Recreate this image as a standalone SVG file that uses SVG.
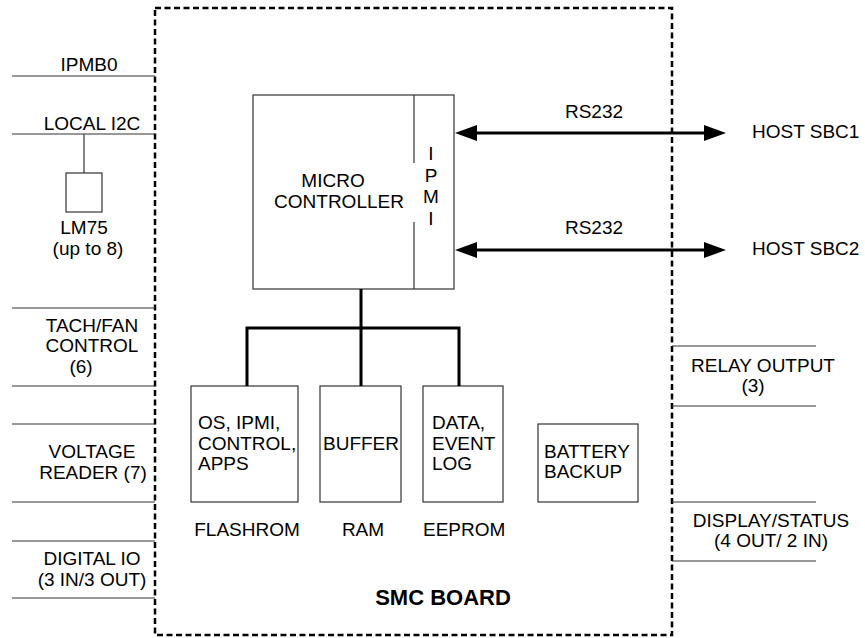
<svg xmlns="http://www.w3.org/2000/svg" width="865" height="638" viewBox="0 0 865 638">
<style>
text{font-family:"Liberation Sans",Arial,sans-serif;font-size:19px;fill:#000}
.c{text-anchor:middle}
.b{font-weight:bold;font-size:22px}
.thin{stroke:#333;stroke-width:1.2;fill:none}
.box{stroke:#333;stroke-width:1.2;fill:#fff}
.bus{stroke:#000;stroke-width:3;fill:none}
.arr{stroke:#000;stroke-width:3;fill:none;marker-start:url(#ah);marker-end:url(#ah)}
</style>
<defs>
<marker id="ah" markerUnits="userSpaceOnUse" viewBox="0 0 22 16" markerWidth="22" markerHeight="16" refX="15" refY="8" orient="auto-start-reverse">
<path d="M0,0 L22,8 L0,16 z" fill="#000"/>
</marker>
</defs>
<rect fill="#fff" width="865" height="638"/>

<g id="board">
<rect x="155" y="8" width="517" height="627" fill="none" stroke="#000" stroke-width="2.5" stroke-dasharray="6 3.5"/>
<text class="c b" x="443" y="605">SMC BOARD</text>
</g>

<g id="ipmb0">
<line class="thin" x1="12" y1="76" x2="155" y2="76"/>
<text class="c" x="89" y="71">IPMB0</text>
</g>
<g id="local-i2c">
<line class="thin" x1="12" y1="134" x2="155" y2="134"/>
<text class="c" x="92" y="130">LOCAL I2C</text>
</g>
<g id="lm75">
<rect class="box" x="66" y="173" width="36" height="39"/>
<text class="c" x="84" y="234">LM75</text>
<text class="c" x="88" y="255">(up to 8)</text>
</g>
<g id="tach-fan">
<line class="thin" x1="12" y1="308" x2="155" y2="308"/>
<line class="thin" x1="12" y1="386" x2="155" y2="386"/>
<text class="c" x="92" y="332">TACH/FAN</text>
<text class="c" x="92" y="352">CONTROL</text>
<text class="c" x="81" y="373">(6)</text>
</g>
<g id="voltage">
<line class="thin" x1="12" y1="424" x2="155" y2="424"/>
<line class="thin" x1="12" y1="502" x2="155" y2="502"/>
<text class="c" x="92" y="458">VOLTAGE</text>
<text class="c" x="93" y="479">READER (7)</text>
</g>
<g id="digital-io">
<line class="thin" x1="12" y1="541" x2="155" y2="541"/>
<line class="thin" x1="12" y1="598" x2="155" y2="598"/>
<text class="c" x="92" y="565">DIGITAL IO</text>
<text class="c" x="92" y="586">(3 IN/3 OUT)</text>
</g>

<g id="micro">
<rect class="box" x="253" y="95" width="201" height="194"/>
<line class="thin" x1="414" y1="95" x2="414" y2="163"/>
<line class="thin" x1="414" y1="222" x2="414" y2="289"/>
<text class="c" x="333" y="187">MICRO</text>
<text class="c" x="339" y="208">CONTROLLER</text>
<text class="c" x="431" y="160">I</text>
<text class="c" x="431" y="182">P</text>
<text class="c" x="431" y="203">M</text>
<text class="c" x="431" y="225">I</text>
</g>

<g id="host-sbc1">
<text x="752" y="138">HOST SBC1</text>
</g>
<g id="host-sbc2">
<text x="752" y="255">HOST SBC2</text>
</g>

<g id="flashrom">
<rect class="box" x="191" y="386" width="107" height="116"/>
<text x="198" y="429">OS, IPMI,</text>
<text x="198" y="450">CONTROL,</text>
<text x="198" y="470">APPS</text>
<text class="c" x="247" y="536">FLASHROM</text>
</g>
<g id="ram">
<rect class="box" x="320" y="386" width="81" height="116"/>
<text x="323" y="450">BUFFER</text>
<text class="c" x="363" y="536">RAM</text>
</g>
<g id="eeprom">
<rect class="box" x="423" y="386" width="80" height="116"/>
<text x="432" y="429">DATA,</text>
<text x="432" y="450">EVENT</text>
<text x="432" y="470">LOG</text>
<text x="423" y="536">EEPROM</text>
</g>
<g id="battery">
<rect class="box" x="538" y="424" width="100" height="78"/>
<text x="544" y="458">BATTERY</text>
<text x="544" y="478">BACKUP</text>
</g>

<g id="relay">
<line class="thin" x1="672" y1="346" x2="816" y2="346"/>
<line class="thin" x1="672" y1="406" x2="816" y2="406"/>
<text class="c" x="763" y="372">RELAY OUTPUT</text>
<text class="c" x="753" y="392">(3)</text>
</g>
<g id="display">
<line class="thin" x1="672" y1="502" x2="816" y2="502"/>
<line class="thin" x1="672" y1="561" x2="816" y2="561"/>
<text class="c" x="771" y="527">DISPLAY/STATUS</text>
<text class="c" x="771" y="547">(4 OUT/ 2 IN)</text>
</g>

<g id="connectors">
<line class="arr" x1="462" y1="133" x2="719" y2="133"/>
<line class="arr" x1="462" y1="250" x2="719" y2="250"/>
<text class="c" x="594" y="118">RS232</text>
<text class="c" x="594" y="234">RS232</text>
<line class="thin" x1="84" y1="134" x2="84" y2="173"/>
<path class="bus" d="M361,289 V386 M247,386 V328 H459 V386"/>
</g>
</svg>
